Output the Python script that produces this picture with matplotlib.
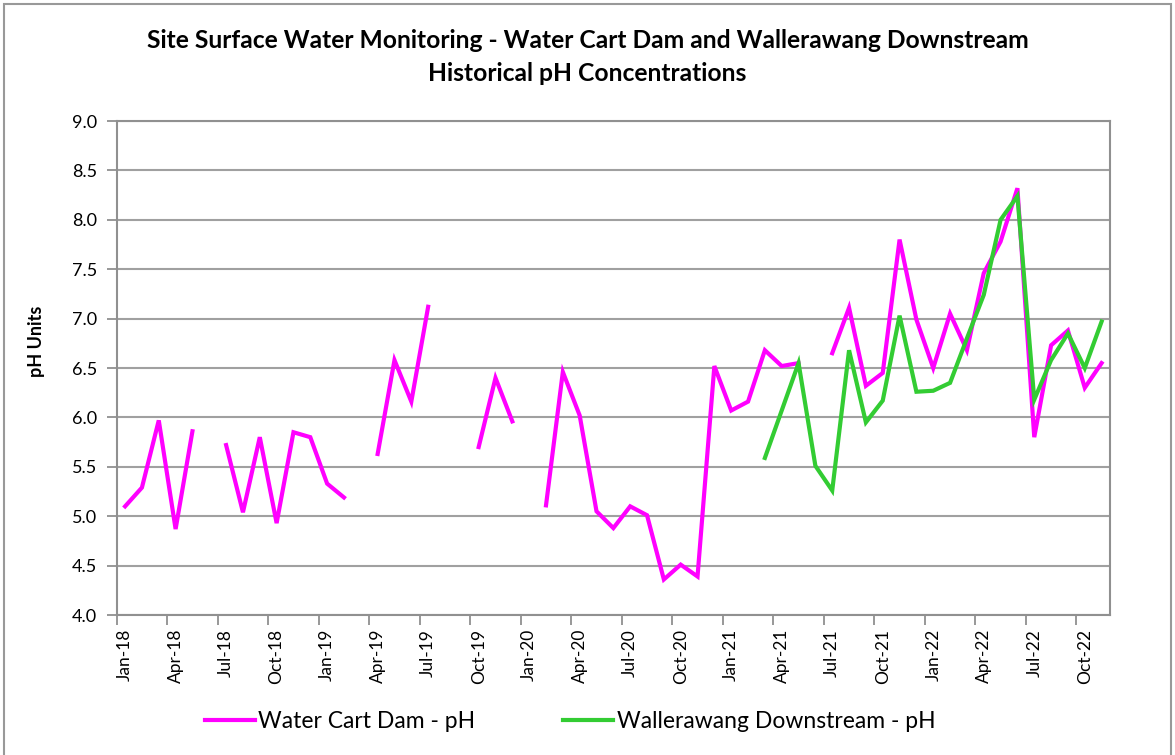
import numpy as np
import matplotlib
matplotlib.use("Agg")
import matplotlib.pyplot as plt
from matplotlib.patches import Rectangle

plt.rcParams['font.family'] = ['Lato', 'DejaVu Sans']

# monthly samples, Jan-18 .. Nov-22 (59 months); nan = no sample
n_months = 59
tick_labels = ["Jan-18", "Apr-18", "Jul-18", "Oct-18", "Jan-19", "Apr-19", "Jul-19",
               "Oct-19", "Jan-20", "Apr-20", "Jul-20", "Oct-20", "Jan-21", "Apr-21",
               "Jul-21", "Oct-21", "Jan-22", "Apr-22", "Jul-22", "Oct-22"]

nan = np.nan
water_cart_dam = [5.10, 5.29, 5.97, 4.87, 5.86, nan, 5.72, 5.04, 5.80, 4.93,
                  5.85, 5.80, 5.33, 5.19, nan, 5.63, 6.58, 6.16, 7.12, nan,
                  nan, 5.70, 6.40, 5.96, nan, 5.11, 6.46, 6.02, 5.05, 4.88,
                  5.10, 5.01, 4.36, 4.51, 4.39, 6.52, 6.07, 6.16, 6.68, 6.52,
                  6.55, nan, 6.65, 7.11, 6.32, 6.45, 7.80, 6.99, 6.50, 7.05,
                  6.68, 7.46, 7.78, 8.32, 5.80, 6.73, 6.88, 6.30, 6.55]

wallerawang_ds = [nan] * 38 + [5.59, 6.07, 6.55, 5.51, 5.26, 6.68, 5.95, 6.17,
                               7.03, 6.26, 6.27, 6.35, 6.80, 7.24, 8.00, 8.24,
                               6.18, 6.58, 6.85, 6.50, 6.97]

x = np.arange(n_months)

fig = plt.figure(figsize=(11.75, 7.55), dpi=100)
ax = fig.add_axes([0.0993, 0.1854, 0.8454, 0.6543])

ax.plot(x, water_cart_dam, color="#FF00FF", lw=3, label="Water Cart Dam - pH",
        solid_joinstyle="miter", zorder=3)
ax.plot(x, wallerawang_ds, color="#33CC33", lw=3, label="Wallerawang Downstream - pH",
        solid_joinstyle="miter", zorder=4)

ax.set_xlim(-0.5, n_months - 0.5)
ax.set_ylim(4.0, 9.0)
ax.set_yticks(np.arange(4.0, 9.01, 0.5))
ax.set_yticklabels([f"{v:.1f}" for v in np.arange(4.0, 9.01, 0.5)])
ax.grid(axis="y", color="#A0A0A0", lw=1.5)
ax.set_axisbelow(True)

# labels at category centres, tick marks on category boundaries
ax.set_xticks(np.arange(0, n_months, 3))
ax.set_xticklabels(tick_labels, rotation=90)
ax.set_xticks(np.arange(-0.5, n_months - 1, 3), minor=True)
ax.tick_params(axis="x", which="major", length=0, pad=10, labelsize=12.5)
ax.tick_params(axis="x", which="minor", length=7, width=1.3, color="#909090")
ax.tick_params(axis="y", length=7, width=1.3, color="#909090", labelsize=13, pad=7)

for s in ax.spines.values():
    s.set_color("#909090")
    s.set_linewidth(1.5)

ax.set_ylabel("pH Units", fontweight="bold", fontsize=13)
ax.yaxis.set_label_coords(-0.072, 0.555)

fig.text(0.5, 0.947, "Site Surface Water Monitoring - Water Cart Dam and Wallerawang Downstream",
         ha="center", va="center", fontweight="bold", fontsize=17.7)
fig.text(0.5, 0.903, "Historical pH Concentrations",
         ha="center", va="center", fontweight="bold", fontsize=17.7)

fig.legend(loc="center", ncol=2, frameon=False, fontsize=16.5,
           bbox_to_anchor=(0.485, 0.044), handlelength=2.2, handletextpad=0.15,
           columnspacing=3.8)

fig.patches.append(Rectangle((0.003, -0.01), 0.994, 1.005, transform=fig.transFigure,
                             fill=False, edgecolor="#999999", lw=1.5))

fig.savefig("out.png", dpi=100)
